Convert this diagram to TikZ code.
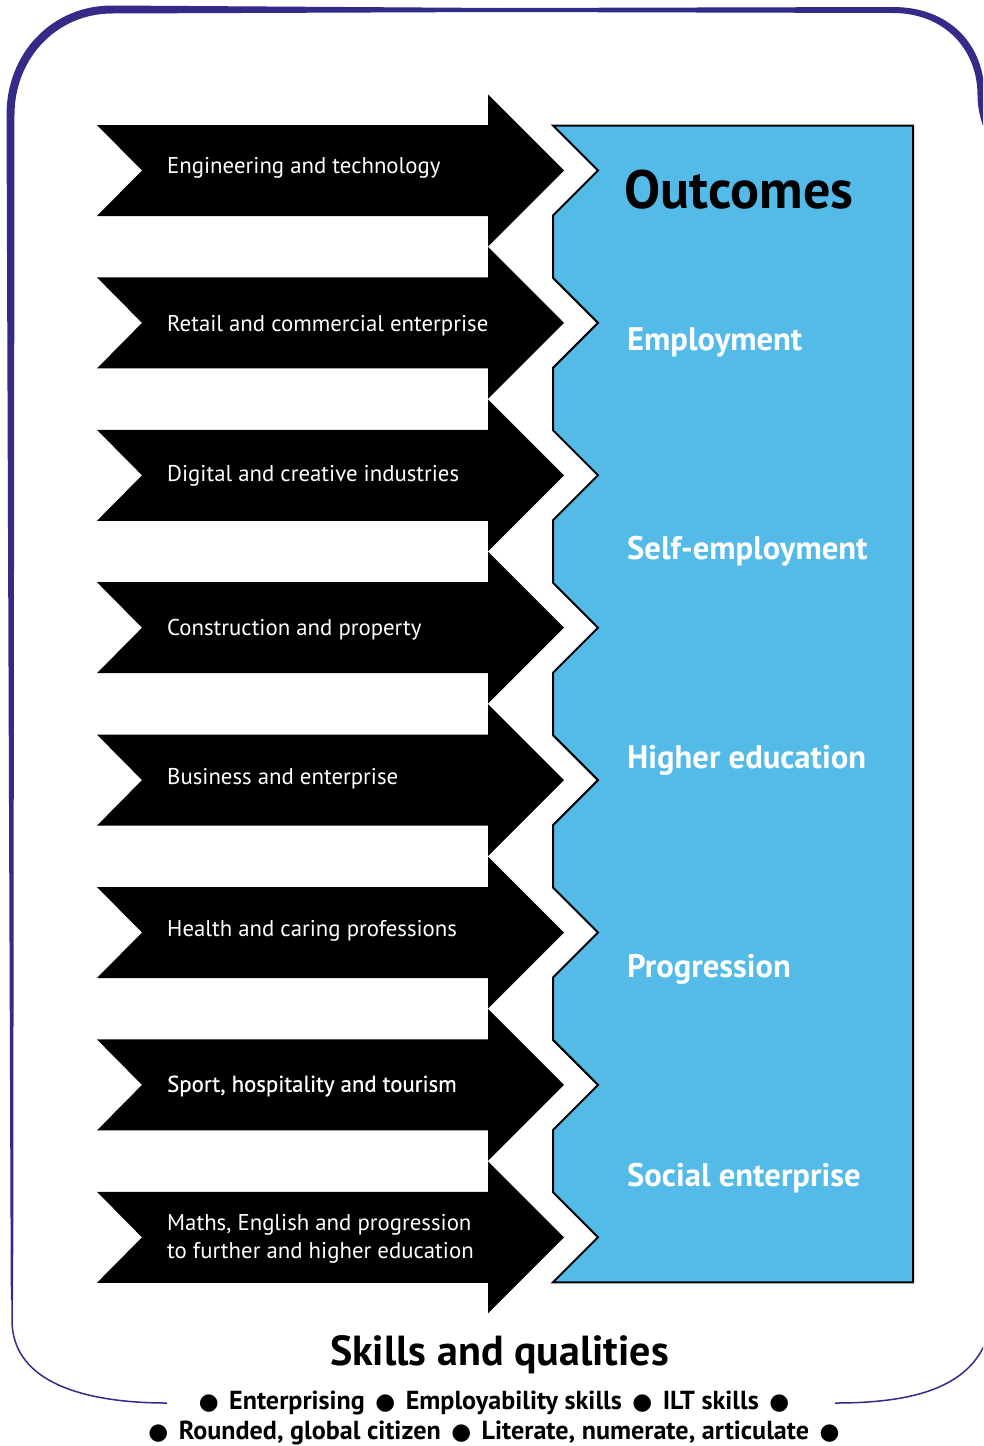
\documentclass[tikz,border=0pt]{standalone}
\usepackage{fontspec}
\setmainfont{PT Sans}
\newfontfamily\dejavu{DejaVu Sans}
\newfontfamily\semibold[FakeBold=0.8]{PT Sans}
\definecolor{framecol}{RGB}{52,42,135}
\definecolor{panelcol}{RGB}{84,187,233}
\newcommand\mybul{{\dejavu\fontsize{22.8}{22.8}\selectfont ●}}
\newcommand\gapbul{\hskip 10.5pt\mybul\hskip 10.5pt}
\tikzset{
  chevron/.style={fill=black},
  armtext/.style={text=white, anchor=west, inner sep=0pt, align=left, font=\fontsize{22.8}{28}\selectfont},
  outtext/.style={text=white, anchor=west, inner sep=0pt, font=\bfseries\fontsize{32.6}{38}\selectfont},
  paneledge/.style={draw=black, line width=2pt, fill=panelcol, line join=miter},
  thinframe/.style={draw=framecol, line width=1.5pt},
  skilltext/.style={inner sep=0pt, font=\bfseries\fontsize{26.1}{30}\selectfont},
}
\begin{document}
\begin{tikzpicture}[x=1pt,y=-1pt]
\useasboundingbox (0,0) rectangle (983,1446);
\clip (0,0) rectangle (983,1446);
% frame (tapered brush stroke)
\fill[framecol] (10.8,1300) -- (6.5,115) .. controls (6.5,53) and (52,5.5) .. (112,5.5)
  -- (500,8) -- (893,7) .. controls (950,7) and (984.5,45) .. (984.5,95)
  .. controls (985,110) and (992,125) .. (1005,140) -- (995,148)
  .. controls (983,132) and (977.5,112) .. (977.5,95)
  .. controls (977.5,50) and (945,13) .. (893,13) -- (500,12) -- (112,13.5)
  .. controls (57,13.5) and (14.5,58) .. (14.5,115) -- (13.2,1300) -- cycle;
\draw[thinframe] (12,1290) -- (12,1320) .. controls (12,1385) and (90,1403) .. (167,1403);
\draw[thinframe] (835,1403) .. controls (920,1403) and (975,1385) .. (990,1330);
% blue panel
\draw[paneledge] (553,125.5)
  \foreach \c in {170.5,322.9,475.3,627.7,780.1,932.5,1084.9,1237.3} {
    -- (553,{\c-45}) -- (598,\c) -- (553,{\c+45}) }
  -- (913,1282.3) -- (913,125.5) -- cycle;
% chevrons
\foreach \c in {170.5,322.9,475.3,627.7,780.1,932.5,1084.9,1237.3} {
  \fill[chevron] (97,{\c-45.5}) -- (488,{\c-45.5}) -- (488,{\c-76}) -- (564,\c)
    -- (488,{\c+76}) -- (488,{\c+45.5}) -- (97,{\c+45.5}) -- (142,\c) -- cycle;
}
% chevron labels
\node[armtext] (a1) at (167,168) {Engineering and technology};
\node[armtext] (a2) at (167,326) {Retail and commercial enterprise};
\node[armtext] (a3) at (167,476) {Digital and creative industries};
\node[armtext] (a4) at (167,630) {Construction and property};
\node[armtext] (a5) at (167,779) {Business and enterprise};
\node[armtext] (a6) at (167,931) {Health and caring professions};
\node[armtext, font=\semibold\fontsize{22.8}{28}\selectfont] (a7) at (167,1086) {Sport, hospitality and tourism};
\node[armtext] (a8) at (167,1238.5) {Maths, English and progression\\to further and higher education};
% outcomes
\node[anchor=west, inner sep=0pt, font=\bfseries\fontsize{54}{60}\selectfont] (title) at (624,190) {Outcomes};
\node[outtext] (o1) at (627,342) {Employment};
\node[outtext] (o2) at (627,551) {Self-employment};
\node[outtext] (o3) at (627,760) {Higher education};
\node[outtext] (o4) at (627,969) {Progression};
\node[outtext] (o5) at (627,1178) {Social enterprise};
% skills
\node[inner sep=0pt, font=\bfseries\fontsize{42}{46}\selectfont] (skills) at (499.5,1355) {Skills and qualities};
\node[skilltext] (s1) at (494,1403) {\mybul\hskip 10.5pt Enterprising\gapbul Employability skills\gapbul ILT skills\hskip 10.5pt\mybul};
\node[skilltext] (s2) at (494,1433) {\mybul\hskip 10.5pt Rounded, global citizen\gapbul Literate, numerate, articulate\hskip 10.5pt\mybul};
\end{tikzpicture}
\end{document}
